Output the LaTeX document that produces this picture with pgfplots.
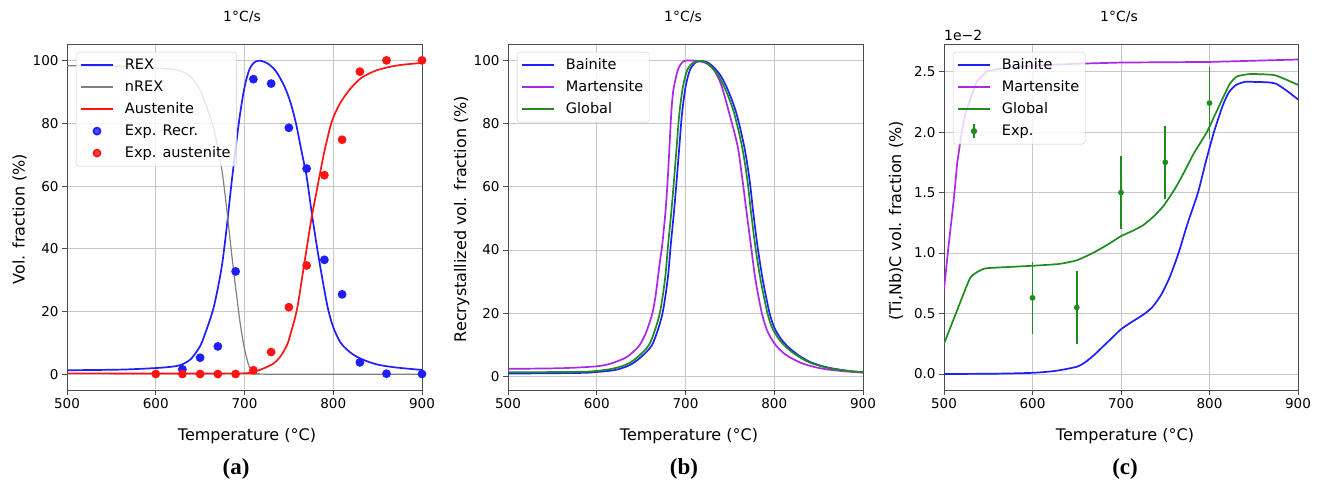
\documentclass[border=0pt]{standalone}
\usepackage{fontspec}
\setmainfont{DejaVu Sans}
\newfontfamily\seriffont{Liberation Serif}
\usepackage{pgfplots}
\pgfplotsset{compat=1.18}

\definecolor{mblue}{RGB}{30,30,255}
\definecolor{mred}{RGB}{255,20,20}
\definecolor{mgray}{RGB}{128,128,128}
\definecolor{mpurple}{RGB}{170,40,230}
\definecolor{mgreen}{RGB}{30,140,30}

\pgfplotsset{
  lineleg/.style={legend image code/.code={\draw[#1, line width=1.8pt] (0pt,0pt) -- (32pt,0pt);}},
  dotleg/.style={legend image code/.code={\fill[#1] (16pt,0pt) circle (3.5pt);}},
  myaxis/.style={
    scale only axis, width=355pt, height=345pt, anchor=south west,
    xmin=500, xmax=900, xtick={500,600,700,800,900},
    tick align=outside, tick pos=left, major tick length=5pt,
    grid=major, major grid style={draw=black!22, line width=0.9pt},
    axis line style={draw=black!70, line width=1pt},
    tick style={black!70, line width=1pt},
    tick label style={font=\fontsize{13.5}{16}\selectfont},
    /pgf/number format/assume math mode=true,
    every axis plot/.append style={line width=1.7pt},
    legend cell align=left,
    legend style={font=\fontsize{14.5}{17}\selectfont, at={(0.025,0.98)}, anchor=north west,
      draw=black!20, fill=white, fill opacity=0.8, text opacity=1, rounded corners=3pt,
      inner xsep=4pt, inner ysep=4pt, row sep=4pt,
      nodes={inner ysep=2pt, inner xsep=2pt, text height=11pt, text depth=3pt},
      /tikz/every odd column/.append style={column sep=9pt}},
  }
}

\begin{document}
\begin{tikzpicture}
\path[use as bounding box] (0,0) rectangle (1327pt,485pt);

% ---------------- (a)
\begin{axis}[myaxis, at={(67pt,95pt)}, ymin=-5, ymax=105, ytick={0,20,40,60,80,100}]
\addplot[mblue, smooth, tension=0.5, lineleg=mblue] coordinates {(500,1.3)(560,1.5)(600,2.0)(620,2.5)(630,3.2)(640,5.0)(650,9.0)(655,12.5)(660,16.5)(665,21)(670,27.5)(675,35.5)(680,47)(685,60)(690,72)(695,83)(700,91.5)(705,96.8)(710,99.2)(716,100)(725,99.3)(735,96.8)(745,91.8)(752,86.5)(758,80)(764,71.5)(770,63)(776,51)(782,40)(788,30)(794,21)(800,15)(808,10.2)(815,8)(823,6.2)(835,4.5)(850,3.1)(870,2.2)(900,1.4)};
\addlegendentry{REX}
\addplot[mgray, line width=1.2pt, smooth, tension=0.5, lineleg=mgray] coordinates {(500,98.4)(560,98.2)(600,97.7)(620,97.2)(630,96.5)(640,94.7)(650,90.7)(655,87.2)(660,83.2)(665,78.7)(670,72.2)(675,64.2)(680,52.7)(685,39.7)(690,27.7)(695,16.6)(700,8.1)(705,2.7)(710,0.6)(716,0.2)(725,0.05)(900,0)};
\addlegendentry{nREX}
\addplot[mred, smooth, tension=0.5, lineleg=mred] coordinates {(500,0.3)(690,0.3)(705,0.5)(715,1.2)(725,2.3)(733,3.5)(740,5.5)(748,9.4)(752,13)(756,17)(760,22)(765,31)(770,40)(775.6,50)(780,56.5)(784,62.5)(790,71)(797.7,80)(805,85)(812,88.3)(820,91.3)(831,94.4)(845,96.5)(857,97.6)(875,98.6)(900,99.3)};
\addlegendentry{Austenite}
\addplot[only marks, mark=*, mark size=3.5pt, mark options={draw=mblue, fill=mblue}, dotleg=mblue] coordinates {(630,1.6)(650,5.3)(670,8.9)(690,32.8)(710,94.1)(730,92.7)(750,78.6)(770,65.6)(790,36.5)(810,25.5)(830,3.8)(860,0.2)(900,0.1)};
\addlegendentry{Exp. Recr.}
\addplot[only marks, mark=*, mark size=3.5pt, mark options={draw=mred, fill=mred}, dotleg=mred] coordinates {(600,0.1)(630,0.1)(650,0.1)(670,0.1)(690,0.1)(710,1.3)(730,7.1)(750,21.4)(770,34.7)(790,63.5)(810,74.8)(830,96.5)(860,100.1)(900,100.1)};
\addlegendentry{Exp. austenite}
\end{axis}

% ---------------- (b)
\begin{axis}[myaxis, at={(508pt,95pt)}, ymin=-4.3, ymax=104.9, ytick={0,20,40,60,80,100}]
\addplot[mblue, smooth, tension=0.5, lineleg=mblue] coordinates {(500,0.9)(580,1.1)(600,1.4)(620,2.0)(635,3.3)(645,5.0)(655,7.5)(662,9.8)(668,14)(674.4,20.4)(680,31)(683.5,42)(687,52)(690,62)(693,72.5)(696,83)(700,91.5)(705,97)(712,99.5)(720,99.8)(725,99.4)(732,97.8)(740,95.0)(748,90.5)(757,83.6)(766,73)(772,62.6)(776.3,52)(781,41.5)(786.8,31)(794.4,20.4)(800,15.5)(807.5,11.9)(815,9.5)(822.5,7.7)(830,6.2)(841,4.5)(855,3.2)(868,2.4)(885,1.7)(900,1.3)};
\addlegendentry{Bainite}
\addplot[mpurple, smooth, tension=0.5, lineleg=mpurple] coordinates {(500,2.4)(560,2.6)(600,3.2)(615,4.0)(625,5.0)(633,6.0)(640,7.5)(648,9.8)(655,13.5)(660,17.5)(663,20.4)(666,25)(668.8,31)(671,36)(673.7,41.5)(677.4,52)(680,62.6)(682,73)(684,83.6)(686,90)(688.7,94)(692,97.5)(697,99.6)(703,100)(712,99.9)(718,99.6)(725,98.9)(732,97)(740,92.5)(749,83.6)(758.6,73)(764,62.6)(768.8,52)(773.7,41.5)(778.6,31)(785.7,20.4)(792,14.5)(800,10.5)(808,8)(816,6.3)(830,4.3)(845,3.0)(860,2.2)(880,1.6)(900,1.2)};
\addlegendentry{Martensite}
\addplot[mgreen, smooth, tension=0.5, lineleg=mgreen] coordinates {(500,1.3)(580,1.45)(600,1.75)(617,2.4)(632,3.6)(642,5.2)(652,7.7)(659,10)(665,14.2)(671.4,20.5)(677,31)(680.5,42)(684,52)(687,62)(690,72.5)(693,83)(697,91.5)(702,97)(709,99.4)(716,99.8)(722.5,99.4)(729.5,97.8)(737.5,95.0)(745.5,90.5)(754.5,83.6)(763.5,73)(769.5,62.6)(773.8,52)(778.5,41.5)(784.3,31)(792,20.4)(797.5,15.5)(805,11.9)(812.5,9.5)(820,7.7)(828,6.2)(839,4.5)(853,3.2)(866,2.4)(884,1.7)(900,1.3)};
\addlegendentry{Global}
\end{axis}

% ---------------- (c)
\begin{axis}[myaxis, at={(944pt,95pt)}, width=354pt, ymin=-0.132, ymax=2.72, ytick={0,0.5,1,1.5,2,2.5},
  yticklabel style={/pgf/number format/.cd, fixed, fixed zerofill, precision=1}]
\addplot[mblue, smooth, tension=0.4, lineleg=mblue] coordinates {(500,0)(560,0.003)(600,0.01)(625,0.025)(650,0.06)(660,0.1)(670,0.16)(680,0.23)(690,0.3)(700,0.37)(712,0.43)(725,0.49)(735,0.55)(745,0.65)(755,0.8)(765,1.0)(775,1.24)(787,1.5)(796,1.76)(805,2.0)(815,2.22)(822,2.33)(830,2.39)(840,2.415)(850,2.415)(875,2.40)(900,2.27)};
\addlegendentry{Bainite}
\addplot[mpurple, lineleg=mpurple] coordinates {(500,0.7)(505,1.05)(511,1.44)(515,1.75)(520,2.0)(524,2.15)(530,2.28)(537,2.42)(548,2.5)(560,2.52)(600,2.55)(650,2.565)(700,2.575)(800,2.58)(900,2.6)};
\addlegendentry{Martensite}
\addplot[mgreen, smooth, tension=0.3, lineleg=mgreen] coordinates {(500,0.25)(515,0.53)(530,0.80)(545,0.87)(560,0.88)(600,0.895)(630,0.91)(650,0.94)(668,1.0)(685,1.07)(700,1.14)(712,1.18)(725,1.23)(738,1.31)(748,1.39)(760,1.52)(770,1.65)(782,1.82)(797,2.0)(806,2.14)(815,2.28)(823,2.40)(831,2.46)(846,2.48)(874,2.47)(900,2.39)};
\addlegendentry{Global}
\addplot[mgreen, only marks, mark=*, mark size=2pt,
  legend image code/.code={\draw[mgreen, line width=1.7pt] (16pt,-7pt) -- (16pt,7pt); \fill[mgreen] (16pt,0pt) circle (2.3pt);},
  error bars/.cd, y dir=both, y explicit, error mark=none, error bar style={line width=1.7pt, mgreen}]
  coordinates {(600,0.63) +- (0,0.30) (650,0.55) +- (0,0.30) (700,1.50) +- (0,0.30) (750,1.75) +- (0,0.30) (800,2.24) +- (0,0.30)};
\addlegendentry{Exp.}
\end{axis}

% ---------------- texts
\begin{scope}[every node/.style={inner sep=0pt}]
\node[font=\fontsize{14}{16}\selectfont] at (242pt,468pt) {1°C/s};
\node[font=\fontsize{14}{16}\selectfont] at (683pt,468pt) {1°C/s};
\node[font=\fontsize{14}{16}\selectfont] at (1119pt,468pt) {1°C/s};
\node[font=\fontsize{14}{16}\selectfont, anchor=base west] at (944pt,444pt) {1e−2};

\node[font=\fontsize{16}{18}\selectfont, anchor=base] at (247pt,44.5pt) {Temperature (°C)};
\node[font=\fontsize{16}{18}\selectfont, anchor=base] at (689pt,44.5pt) {Temperature (°C)};
\node[font=\fontsize{16}{18}\selectfont, anchor=base] at (1125pt,44.5pt) {Temperature (°C)};

\node[font=\fontsize{16}{18}\selectfont, rotate=90, anchor=base] at (24.5pt,266pt) {Vol. fraction (\%)};
\node[font=\fontsize{16}{18}\selectfont, rotate=90, anchor=base] at (466pt,266pt) {Recrystallized vol. fraction (\%)};
\node[font=\fontsize{16}{18}\selectfont, rotate=90, anchor=base] at (901pt,264pt) {(Ti,Nb)C vol. fraction (\%)};

\node[font=\fontsize{23}{26}\selectfont\seriffont\bfseries, anchor=base] at (236pt,11pt) {(a)};
\node[font=\fontsize{23}{26}\selectfont\seriffont\bfseries, anchor=base] at (684pt,11pt) {(b)};
\node[font=\fontsize{23}{26}\selectfont\seriffont\bfseries, anchor=base] at (1125pt,11pt) {(c)};
\end{scope}
\end{tikzpicture}
\end{document}
